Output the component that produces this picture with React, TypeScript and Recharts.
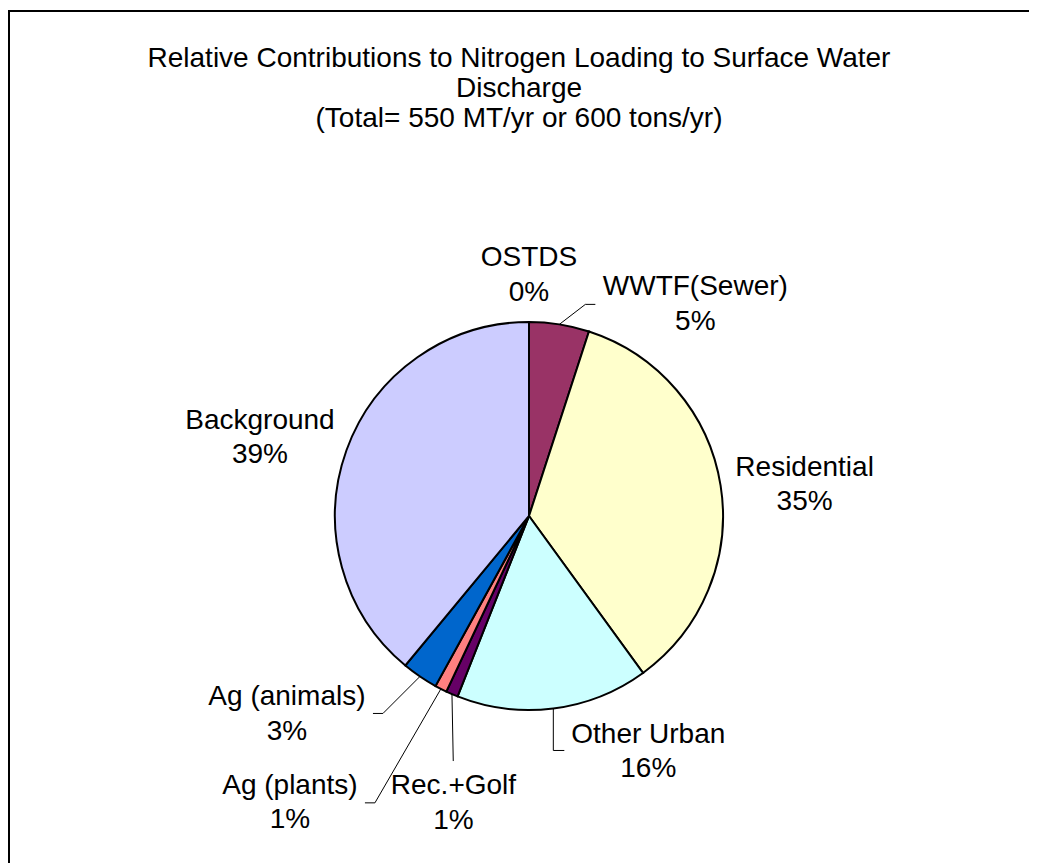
import React from 'react';
import { PieChart, Pie, Cell } from 'recharts';

// Nitrogen loading sources and their share of the total (%)
const categories = [
  'OSTDS',
  'WWTF(Sewer)',
  'Residential',
  'Other Urban',
  'Rec.+Golf',
  'Ag (plants)',
  'Ag (animals)',
  'Background',
];
const shares = [0, 5, 35, 16, 1, 1, 3, 39];

const titleLines = [
  'Relative Contributions to Nitrogen Loading to Surface Water',
  'Discharge',
  '(Total= 550 MT/yr or 600 tons/yr)',
];

const sliceColors = ['#9999FF', '#993366', '#FFFFCC', '#CCFFFF', '#660066', '#FF8080', '#0066CC', '#CCCCFF'];

// Label placement relative to the slice's outer mid-point; optional leader line bends
type Placement = { dx: number; dy: number; leader?: [number, number][] };
const labelPlacement: Record<string, Placement> = {
  'OSTDS': { dx: 0, dy: -56 },
  'WWTF(Sewer)': { dx: 136, dy: -29, leader: [[26, -20], [36, -20]] },
  'Residential': { dx: 84, dy: -10 },
  'Other Urban': { dx: 95, dy: 34.5, leader: [[0, 42], [11, 42]] },
  'Rec.+Golf': { dx: 1.5, dy: 100, leader: [[1.3, 67]] },
  'Ag (plants)': { dx: -151, dy: 105, leader: [[-66, 114], [-76, 114]] },
  'Ag (animals)': { dx: -133, dy: 29, leader: [[-37, 37], [-47, 37]] },
  'Background': { dx: -86.5, dy: -21.3 },
};

const FONT = '"Liberation Sans", Arial, sans-serif';
const RADIAN = Math.PI / 180;

const data = categories.map((name, i) => ({ name, value: shares[i] }));

function renderLabel(props: any) {
  const { cx, cy, midAngle, outerRadius, name, value } = props;
  const px = cx + outerRadius * Math.cos(-midAngle * RADIAN);
  const py = cy + outerRadius * Math.sin(-midAngle * RADIAN);
  const place = labelPlacement[name] || { dx: 0, dy: 0 };
  const tx = px + place.dx;
  const ty = py + place.dy;
  const pts = place.leader
    ? [[px, py], ...place.leader.map(([lx, ly]) => [px + lx, py + ly])]
    : null;
  return (
    <g key={`lbl-${name}`}>
      {pts && (
        <polyline
          points={pts.map((p) => p.join(',')).join(' ')}
          fill="none"
          stroke="#000"
          strokeWidth={1}
        />
      )}
      <text
        x={tx}
        y={ty}
        textAnchor="middle"
        fontFamily={FONT}
        fontSize={28}
        fill="#000"
      >
        <tspan x={tx}>{name}</tspan>
        <tspan x={tx} dy={34.5}>{`${value}%`}</tspan>
      </text>
    </g>
  );
}

export default function App() {
  return (
    <>
      <style>{'html,body{overflow:hidden;}'}</style>
      <div
        style={{
          position: 'relative',
          top: 2,
          width: 1100,
          height: 900,
          borderLeft: '2px solid #000',
          borderTop: '2px solid #000',
          boxSizing: 'border-box',
          background: '#fff',
          overflow: 'hidden',
        }}
      >
        <div
          style={{
            position: 'absolute',
            left: 0,
            top: 31,
            width: 1018,
            textAlign: 'center',
            fontFamily: FONT,
            fontSize: 28,
            lineHeight: '30px',
            color: '#000',
          }}
        >
          {titleLines.map((t) => (
            <div key={t}>{t}</div>
          ))}
        </div>
        <PieChart width={1098} height={898} margin={{ top: 0, right: 0, bottom: 0, left: 0 }}>
          <Pie
            data={data}
            dataKey="value"
            nameKey="name"
            cx={519}
            cy={504}
            outerRadius={194}
            startAngle={90}
            endAngle={-270}
            stroke="#000"
            strokeWidth={2}
            label={renderLabel}
            labelLine={false}
            isAnimationActive={false}
          >
            {data.map((d, i) => (
              <Cell key={d.name} fill={sliceColors[i]} />
            ))}
          </Pie>
        </PieChart>
      </div>
    </>
  );
}
